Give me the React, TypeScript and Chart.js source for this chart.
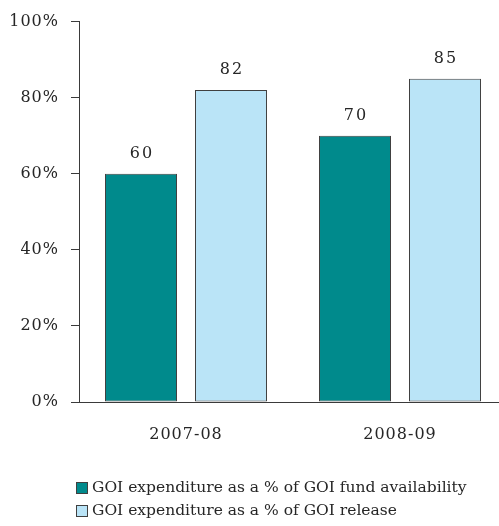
import React, { useEffect, useRef } from "react";
import { Chart, registerables } from "chart.js";

Chart.register(...registerables);

const categories = ["2007-08", "2008-09"];
const seriesNames = [
  "GOI expenditure as a % of GOI fund availability",
  "GOI expenditure as a % of GOI release",
];
const fundAvailability = [60, 70];
const release = [82, 85];
const yTicks = [0, 20, 40, 60, 80, 100];

const FONT = "'DejaVu Serif', 'Liberation Serif', serif";
const TEXT = "#262626";
const AXIS = "#3a3a3a";
const DARK = "#008a8c";
const LIGHT = "#bae4f7";
const BORDER = "#404040";

const letterSpacingPlugin = {
  id: "letterSpacing",
  beforeDraw(chart: any) {
    chart.ctx.letterSpacing = "1px";
  },
  afterDraw(chart: any) {
    chart.ctx.letterSpacing = "0px";
  },
};

// extend the plot area slightly past the right canvas edge, like the original
const widenArea = {
  id: "widenArea",
  afterLayout(chart: any) {
    const R = 507;
    const x = chart.scales.x;
    chart.chartArea.right = R;
    chart.chartArea.width = R - chart.chartArea.left;
    x.right = R;
    x.width = R - x.left;
    x.configure();
  },
};

const valueLabels = {
  id: "valueLabels",
  afterDatasetsDraw(chart: any) {
    const ctx = chart.ctx;
    ctx.save();
    ctx.letterSpacing = "2px";
    ctx.font = `16px ${FONT}`;
    ctx.fillStyle = TEXT;
    ctx.textAlign = "center";
    ctx.textBaseline = "alphabetic";
    chart.data.datasets.forEach((ds: any, di: number) => {
      const meta = chart.getDatasetMeta(di);
      meta.data.forEach((bar: any, i: number) => {
        ctx.fillText(String(ds.data[i]), bar.x + 1, bar.y - 16);
      });
    });
    ctx.restore();
  },
};

const customLegend = {
  id: "customLegend",
  afterDraw(chart: any) {
    const ctx = chart.ctx;
    ctx.save();
    ctx.letterSpacing = "0px";
    ctx.font = `15.5px ${FONT}`;
    ctx.textAlign = "left";
    ctx.textBaseline = "middle";
    const rows = [488, 511];
    chart.data.datasets.forEach((ds: any, di: number) => {
      const y = rows[di];
      ctx.fillStyle = ds.backgroundColor;
      ctx.strokeStyle = ds.borderColor;
      ctx.lineWidth = 1;
      ctx.fillRect(76, y - 6, 12, 12);
      ctx.strokeRect(76.5, y - 5.5, 11, 11);
      ctx.fillStyle = TEXT;
      ctx.fillText(ds.label, 92, y);
    });
    ctx.restore();
  },
};

export default function App() {
  const ref = useRef<HTMLCanvasElement | null>(null);

  useEffect(() => {
    document.body.style.margin = "0";
    if (!ref.current) return;
    const chart = new Chart(ref.current, {
      type: "bar",
      data: {
        labels: categories,
        datasets: [
          {
            label: seriesNames[0],
            data: fundAvailability,
            backgroundColor: DARK,
            borderColor: BORDER,
            borderWidth: 1,
            borderSkipped: false,
          },
          {
            label: seriesNames[1],
            data: release,
            backgroundColor: LIGHT,
            borderColor: BORDER,
            borderWidth: 1,
            borderSkipped: false,
          },
        ],
      },
      options: {
        responsive: false,
        animation: false,
        datasets: {
          bar: { categoryPercentage: 0.841, barPercentage: 0.8 },
        },
        layout: { padding: { left: 0, right: 0, top: 13, bottom: 0 } },
        plugins: {
          legend: { display: false },
          tooltip: { enabled: false },
        },
        scales: {
          x: {
            grid: { display: false },
            border: { display: true, color: AXIS, width: 1 },
            ticks: {
              font: { family: FONT, size: 16 },
              color: TEXT,
              padding: 15,
            },
            afterFit: (s: any) => {
              s.height = 124;
            },
          },
          y: {
            min: 0,
            max: 100,
            afterBuildTicks: (s: any) => {
              s.ticks = yTicks.map((v) => ({ value: v }));
            },
            grid: {
              drawOnChartArea: false,
              drawTicks: true,
              tickLength: 8,
              color: AXIS,
            },
            border: { display: true, color: AXIS, width: 1 },
            ticks: {
              font: { family: FONT, size: 16 },
              color: TEXT,
              padding: 12,
              callback: (v: any) => `${v}%`,
            },
            afterFit: (s: any) => {
              s.width = 79;
            },
          },
        },
      },
      plugins: [letterSpacingPlugin, widenArea, valueLabels, customLegend],
    });
    return () => chart.destroy();
  }, []);

  return (
    <div style={{ width: 499, height: 526 }}>
      <canvas ref={ref} width={499} height={526} />
    </div>
  );
}
